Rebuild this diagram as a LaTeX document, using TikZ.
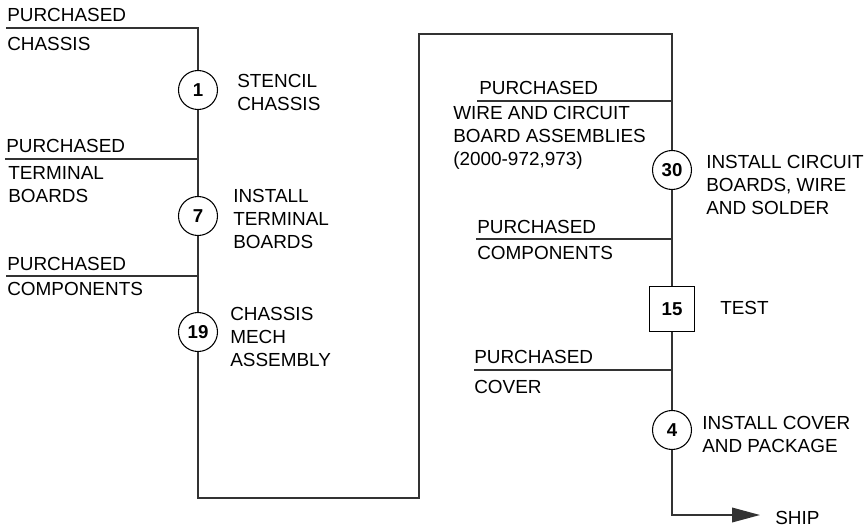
\documentclass[tikz,border=0pt]{standalone}
\usepackage{fontspec}
\setmainfont{Liberation Sans}
\usetikzlibrary{arrows.meta}
\begin{document}
\begin{tikzpicture}[x=0.75pt,y=-0.75pt,
  flow/.style={draw=black!80, line width=1.1pt},
  opcircle/.style={circle, draw=black, line width=0.8pt, fill=white, minimum size=29.25pt, inner sep=0pt, font=\fontsize{14}{17}\selectfont\bfseries},
  opbox/.style={rectangle, draw=black, line width=0.8pt, fill=white, minimum size=34pt, inner sep=0pt, font=\fontsize{14}{17}\selectfont\bfseries},
  lbl/.style={anchor=west, inner sep=0pt, align=left, font=\fontsize{14.2}{17.25}\selectfont}]
\useasboundingbox (0,0) rectangle (866,528);
% left labels
\node[lbl] (t1a) at (7,15) {PURCHASED};
\node[lbl] (t1b) at (7,43.5) {CHASSIS};
\node[lbl] (t2a) at (6,146) {PURCHASED};
\node[lbl] (t2b) at (8,185) {TERMINAL\\BOARDS};
\node[lbl] (t3a) at (7,264) {PURCHASED};
\node[lbl] (t3b) at (7,289) {COMPONENTS};
\node[lbl] (d1) at (237,92) {STENCIL\\CHASSIS};
\node[lbl] (d7) at (233,219) {INSTALL\\TERMINAL\\BOARDS};
\node[lbl] (d19) at (230,337) {CHASSIS\\MECH\\ASSEMBLY};
% right labels
\node[lbl] (t4a) at (479,88) {PURCHASED};
\node[lbl] (t4b) at (453,138) {WIRE AND CIRCUIT\\BOARD ASSEMBLIES\\(2000-972,973)};
\node[lbl] (d30) at (706,185) {INSTALL CIRCUIT\\BOARDS, WIRE\\AND SOLDER};
\node[lbl] (t5a) at (477,227) {PURCHASED};
\node[lbl] (t5b) at (477,253) {COMPONENTS};
\node[lbl] (d15) at (720,308) {TEST};
\node[lbl] (t6a) at (474,357) {PURCHASED};
\node[lbl] (t6b) at (474,387) {COVER};
\node[lbl] (d4) at (702,434) {INSTALL COVER\\AND PACKAGE};
\node[lbl] (ship) at (775,518) {SHIP};
% operations
\node[opcircle] (n1) at (198,90) {1};
\node[opcircle] (n7) at (198,216) {7};
\node[opcircle] (n19) at (198,332) {19};
\node[opcircle] (n30) at (672,170) {30};
\node[opbox] (n15) at (672,309) {15};
\node[opcircle] (n4) at (672,430) {4};
% coordinates
\coordinate (p1) at (6,28);   \coordinate (c1) at (198,28);
\coordinate (p2) at (5,159);  \coordinate (j2) at (198,159);
\coordinate (p3) at (6,276);  \coordinate (j3) at (198,276);
\coordinate (b1) at (198,498); \coordinate (b2) at (419,498);
\coordinate (b3) at (419,34);  \coordinate (b4) at (672,34);
\coordinate (p4) at (477,101); \coordinate (j4) at (672,101);
\coordinate (p5) at (476,239); \coordinate (j5) at (672,239);
\coordinate (p6) at (474,370); \coordinate (j6) at (672,370);
\coordinate (b5) at (672,515); \coordinate (se) at (760,515);
% connectors
\draw[flow] (p1) -- (c1) -- (n1);
\draw[flow] (n1) -- (n7);
\draw[flow] (p2) -- (j2);
\draw[flow] (n7) -- (n19);
\draw[flow] (p3) -- (j3);
\draw[flow] (n19) -- (b1) -- (b2) -- (b3) -- (b4) -- (n30);
\draw[flow] (p4) -- (j4);
\draw[flow] (n30) -- (n15);
\draw[flow] (p5) -- (j5);
\draw[flow] (n15) -- (n4);
\draw[flow] (p6) -- (j6);
\draw[flow, -{Triangle[length=21pt,width=11pt]}] (n4) -- (b5) -- (se);
\end{tikzpicture}
\end{document}
